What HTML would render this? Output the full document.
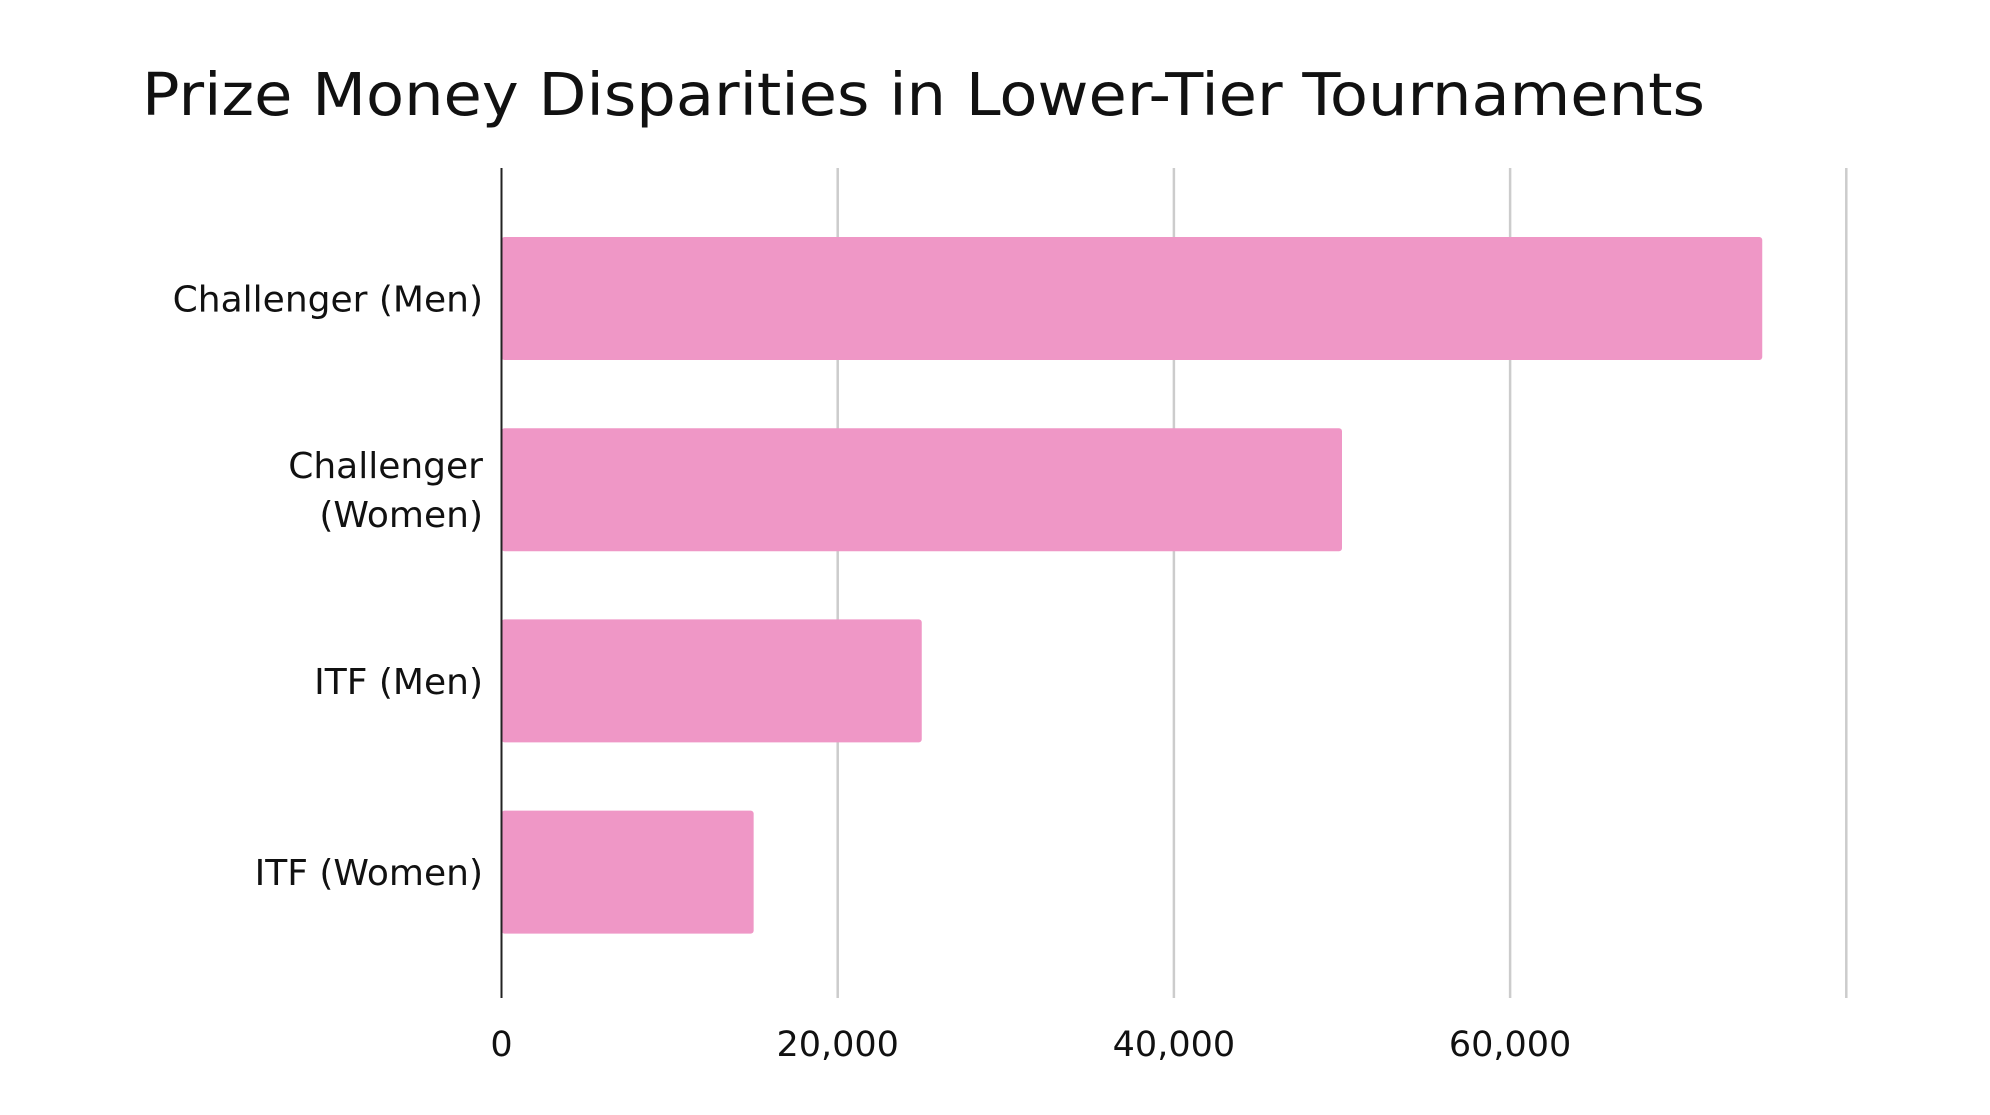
<!DOCTYPE html>
<html><head><meta charset="utf-8"><style>
html,body{margin:0;padding:0;background:#fff;}
svg{display:block;font-family:"DejaVu Sans","Liberation Sans",sans-serif;}
</style></head><body>
<svg id="chart" width="1990" height="1115" viewBox="0 0 1990 1115" xmlns="http://www.w3.org/2000/svg">
<rect width="1990" height="1115" fill="#fff"/>
<text x="142" y="115" font-size="59" fill="#111" textLength="1563" lengthAdjust="spacingAndGlyphs">Prize Money Disparities in Lower-Tier Tournaments</text>
<g id="grid"></g>
<g id="bars"></g>
<g id="ylabels"></g>
<g id="xlabels"></g>
</svg>
<script>
const categories = [["Challenger (Men)"], ["Challenger", "(Women)"], ["ITF (Men)"], ["ITF (Women)"]];
const values = [75000, 50000, 25000, 15000];
const ticks = [0, 20000, 40000, 60000, 80000];
const tickLabels = ["0", "20,000", "40,000", "60,000", ""];

const NS = "http://www.w3.org/2000/svg";
const x0 = 501.5, pxPer = 336.2 / 20000;
const plotTop = 168, plotBottom = 998;
const firstCenter = 298.5, band = 191.2;
const barH = 123;
function xs(v) { return x0 + v * pxPer; }
function yc(i) { return firstCenter + band * i; }
function mk(tag, attrs, parent) {
  const e = document.createElementNS(NS, tag);
  for (const k in attrs) e.setAttribute(k, attrs[k]);
  parent.appendChild(e);
  return e;
}
const grid = document.getElementById('grid');
const barsG = document.getElementById('bars');
const yl = document.getElementById('ylabels');
const xl = document.getElementById('xlabels');

ticks.forEach((t, i) => {
  if (t === 0) return;
  const l = mk('line', {x1: xs(t), x2: xs(t), y1: plotTop, y2: plotBottom, stroke: '#cccccc', 'stroke-width': 2.5}, grid);
  
  
});
ticks.forEach((t, i) => {
  if (!tickLabels[i]) return;
  const tx = mk('text', {x: xs(t), y: 1056, 'font-size': 35, fill: '#111', 'text-anchor': 'middle'}, xl);
  tx.textContent = tickLabels[i];
  
  
});
values.forEach((v, i) => {
  const r = mk('rect', {x: x0, y: yc(i) - barH / 2, width: xs(v) - x0, height: barH, rx: 3, fill: '#ef97c6'}, barsG);
  
  
});
categories.forEach((lines, i) => {
  const n = lines.length;
  lines.forEach((s, j) => {
    const y = yc(i) + 13 + (j - (n - 1) / 2) * 49;
    const tx = mk('text', {x: 483, y: y, 'font-size': 36, fill: '#111', 'text-anchor': 'end'}, yl);
    tx.textContent = s;
    
    
  });
});
const ax = mk('line', {x1: x0, x2: x0, y1: plotTop, y2: plotBottom, stroke: '#222', 'stroke-width': 2}, document.getElementById('chart'));


</script>
</body></html>
